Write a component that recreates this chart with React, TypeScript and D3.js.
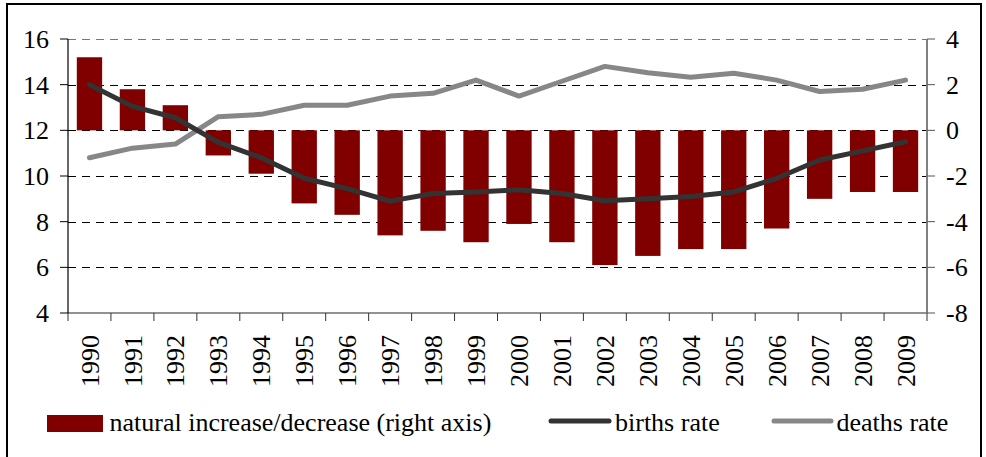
import React from "react";
import * as d3 from "d3";

const years = ["1990","1991","1992","1993","1994","1995","1996","1997","1998","1999","2000","2001","2002","2003","2004","2005","2006","2007","2008","2009"];
const naturalIncrease = [3.2, 1.8, 1.1, -1.1, -1.9, -3.2, -3.7, -4.6, -4.4, -4.9, -4.1, -4.9, -5.9, -5.5, -5.2, -5.2, -4.3, -3.0, -2.7, -2.7];
const birthsRate = [14.0, 13.05, 12.55, 11.47, 10.8, 9.9, 9.45, 8.9, 9.23, 9.3, 9.4, 9.23, 8.92, 9.0, 9.1, 9.3, 9.9, 10.7, 11.1, 11.5];
const deathsRate = [10.8, 11.22, 11.4, 12.6, 12.7, 13.1, 13.1, 13.5, 13.62, 14.2, 13.5, 14.15, 14.8, 14.52, 14.32, 14.5, 14.2, 13.7, 13.8, 14.2];
const leftTicks = [4, 6, 8, 10, 12, 14, 16];
const rightTicks = [-8, -6, -4, -2, 0, 2, 4];

const W = 986;
const H = 457;
const X0 = 68;
const X1 = 927;
const YT = 39;
const YB = 313;
const FONT = '"Liberation Serif", "Times New Roman", Times, serif';

export default function App() {
  const x = d3.scaleBand<string>().domain(years).range([X0, X1]).padding(0);
  const yL = d3.scaleLinear().domain([4, 16]).range([YB, YT]);
  const yR = d3.scaleLinear().domain([-8, 4]).range([YB, YT]);
  const bw = x.bandwidth();
  const barW = bw * 0.59;
  const cx = (y: string) => (x(y) as number) + bw / 2;

  const lineL = d3
    .line<number>()
    .x((_, i) => cx(years[i]))
    .y((d) => yL(d));

  const ts = { fontFamily: FONT, fontSize: 26, fill: "#000" } as React.CSSProperties;

  return (
    <svg
      width={W}
      height={H}
      style={{ position: "absolute", left: 0, top: 0, background: "#fff", fontFamily: FONT }}
    >
      {/* frame */}
      <rect x={7} y={4} width={974} height={470} fill="none" stroke="#000" strokeWidth={2} />

      {/* gridlines */}
      {leftTicks.filter((t) => t !== 4).map((t) => (
        <line
          key={"g" + t}
          x1={X0}
          x2={X1}
          y1={Math.round(yL(t)) + 0.5}
          y2={Math.round(yL(t)) + 0.5}
          stroke={t === 16 ? "#777" : "#000"}
          strokeWidth={1}
          strokeDasharray="8,6"
        />
      ))}

      {/* bars */}
      {years.map((yr, i) => {
        const v = naturalIncrease[i];
        const y0 = yR(0);
        const y1 = yR(v);
        return (
          <rect
            key={"b" + yr}
            x={cx(yr) - barW / 2}
            y={Math.min(y0, y1)}
            width={barW}
            height={Math.abs(y1 - y0)}
            fill="#800000"
          />
        );
      })}

      {/* lines */}
      <path d={lineL(deathsRate) || ""} fill="none" stroke="#878787" strokeWidth={5} strokeLinejoin="round" strokeLinecap="round" />
      <path d={lineL(birthsRate) || ""} fill="none" stroke="#333333" strokeWidth={5} strokeLinejoin="round" strokeLinecap="round" />

      {/* x axis */}
      <line x1={X0} x2={X1} y1={YB} y2={YB} stroke="#6e6e6e" strokeWidth={1.5} />
      {years.map((yr) => (
        <line key={"xt" + yr} x1={x(yr) as number} x2={x(yr) as number} y1={YB} y2={YB + 8} stroke="#333" strokeWidth={1} />
      ))}
      <line x1={X1} x2={X1} y1={YB} y2={YB + 8} stroke="#333" strokeWidth={1} />
      {years.map((yr) => (
        <text
          key={"xl" + yr}
          transform={`translate(${cx(yr)},335) rotate(-90)`}
          textAnchor="end"
          dy="0.35em"
          style={ts}
        >
          {yr}
        </text>
      ))}

      {/* left axis */}
      <line x1={X0} x2={X0} y1={YT} y2={YB} stroke="#000" strokeWidth={1.2} />
      {leftTicks.map((t) => (
        <g key={"lt" + t}>
          <line x1={X0 - 8} x2={X0} y1={yL(t)} y2={yL(t)} stroke="#000" strokeWidth={1} />
          <text x={49} y={yL(t)} dy="0.34em" textAnchor="end" style={ts}>
            {t}
          </text>
        </g>
      ))}

      {/* right axis */}
      <line x1={X1} x2={X1} y1={YT} y2={YB} stroke="#808080" strokeWidth={2} />
      {rightTicks.map((t) => (
        <g key={"rt" + t}>
          <line x1={X1} x2={X1 + 8} y1={yR(t)} y2={yR(t)} stroke="#555" strokeWidth={1} />
          <text x={946} y={yR(t)} dy="0.34em" textAnchor="start" style={ts}>
            {t}
          </text>
        </g>
      ))}

      {/* legend */}
      <rect x={47} y={415} width={56} height={17} fill="#800000" />
      <text x={109.5} y={431} style={ts}>natural increase/decrease (right axis)</text>
      <line x1={551} x2={609} y1={421} y2={421} stroke="#333333" strokeWidth={5} strokeLinecap="round" />
      <text x={615} y={431} style={ts}>births rate</text>
      <line x1={774} x2={831} y1={421} y2={421} stroke="#878787" strokeWidth={5} strokeLinecap="round" />
      <text x={836.5} y={431} style={ts}>deaths rate</text>
    </svg>
  );
}
